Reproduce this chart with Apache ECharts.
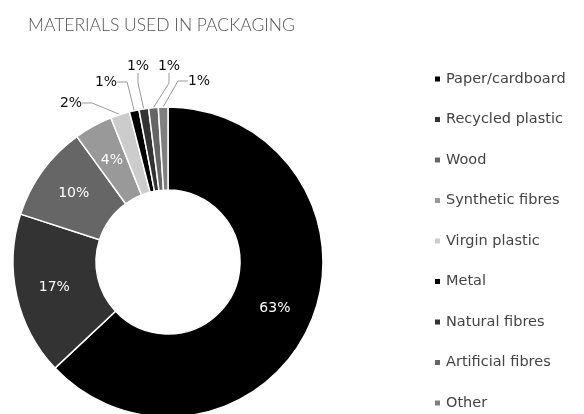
<!DOCTYPE html>
<html>
<head>
<meta charset="utf-8">
<script src="https://cdn.jsdelivr.net/npm/echarts@6/dist/echarts.min.js"></script>
<style>
  html, body { margin: 0; padding: 0; background: #fff; }
  #chart { width: 584px; height: 414px; }
</style>
</head>
<body>
<div id="chart"></div>
<script>
// Share of packaging materials (%)
const materials = ['Paper/cardboard', 'Recycled plastic', 'Wood', 'Synthetic fibres',
  'Virgin plastic', 'Metal', 'Natural fibres', 'Artificial fibres', 'Other'];
const shares = [63, 17, 10, 4, 2, 1, 1, 1, 1];
const shades = ['#000000', '#333333', '#666666', '#999999', '#cccccc',
  '#000000', '#333333', '#666666', '#7f7f7f'];

// small slices get their labels outside, fanned out above the ring
const outsideLabelSpots = {
  4: [71, 103], 5: [106, 82], 6: [138, 66], 7: [169, 66], 8: [199, 81]
};

const titleFont = 'Lato, "Open Sans", sans-serif';
const textFont = '"DejaVu Sans", sans-serif';

const chart = echarts.init(document.getElementById('chart'), null, { renderer: 'canvas' });

chart.setOption({
  animation: false,
  title: {
    text: 'MATERIALS USED IN PACKAGING',
    left: 23, top: 11,
    textStyle: { fontFamily: titleFont, fontWeight: 300, fontSize: 17.5, color: '#555' }
  },
  color: shades,
  legend: {
    orient: 'vertical',
    left: 428, top: 66, height: 400,
    itemWidth: 7, itemHeight: 7, itemGap: 24.5,
    icon: 'rect',
    textStyle: { fontFamily: textFont, fontSize: 14.5, lineHeight: 16, color: '#444' },
    data: materials
  },
  series: [{
    type: 'pie',
    center: [168, 262],
    radius: [72, 155],
    startAngle: 90,
    clockwise: true,
    avoidLabelOverlap: false,
    itemStyle: { borderColor: '#fff', borderWidth: 1.5 },
    label: {
      formatter: '{c}%',
      fontFamily: textFont,
      fontSize: 14
    },
    labelLine: { lineStyle: { color: '#999', width: 1 } },
    labelLayout: function (p) {
      const spot = outsideLabelSpots[p.dataIndex];
      if (!spot) return {};
      return { x: spot[0], y: spot[1], align: 'center', verticalAlign: 'middle' };
    },
    data: materials.map(function (name, i) {
      const big = shares[i] >= 4;
      return {
        name: name,
        value: shares[i],
        label: big
          ? { position: 'inside', color: '#fff' }
          : { position: 'outside', color: '#111' },
        labelLine: { show: !big, length: 12, length2: 10 }
      };
    })
  }]
});
</script>
</body>
</html>
